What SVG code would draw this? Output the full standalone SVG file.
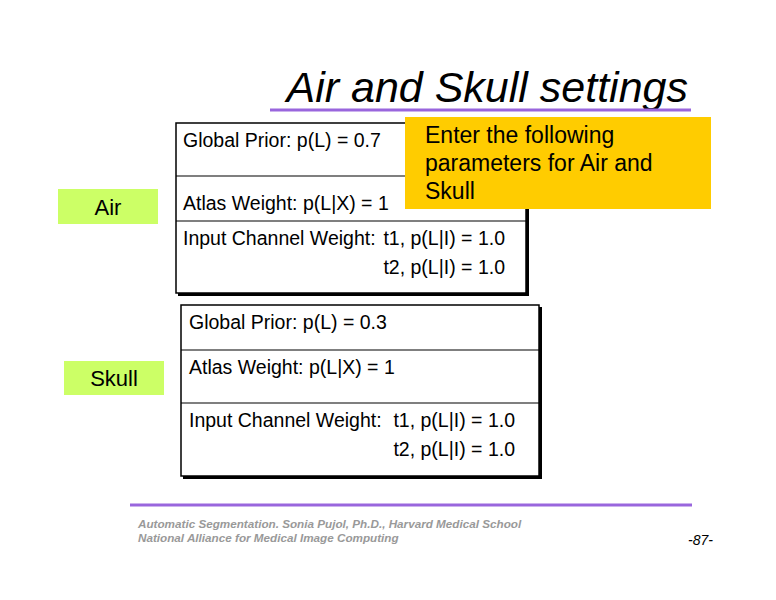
<svg xmlns="http://www.w3.org/2000/svg" width="776" height="600" viewBox="0 0 776 600">
<style>
text{font-family:"Liberation Sans",Arial,sans-serif;fill:#000}
.t{font-size:19.5px}
.box{fill:#fff;stroke:#000;stroke-width:1.5}
.sh{fill:#000}
.div{stroke:#000;stroke-width:1.2}
.lab{fill:#ccff66}
.foot{font-size:11.7px;font-style:italic;font-weight:bold;fill:#999}
</style>
<rect width="776" height="600" fill="#fff"/>
<text x="688" y="102" font-size="43" font-style="italic" text-anchor="end">Air and Skull settings</text>
<line x1="270" y1="110" x2="691" y2="110" stroke="#9966dd" stroke-width="3"/>
<g id="air-table">
<rect class="sh" x="178" y="125" width="351" height="171"/>
<rect class="box" x="176" y="123" width="350" height="170"/>
<line class="div" x1="176" y1="176" x2="526" y2="176"/>
<line class="div" x1="176" y1="221" x2="526" y2="221"/>
<text class="t" x="183" y="147">Global Prior: p(L) = 0.7</text>
<text class="t" x="183" y="210">Atlas Weight: p(L|X) = 1</text>
<text class="t" x="183" y="245">Input Channel Weight:</text>
<text class="t" x="505" y="245" text-anchor="end">t1, p(L|I) = 1.0</text>
<text class="t" x="505" y="274" text-anchor="end">t2, p(L|I) = 1.0</text>
</g>
<g id="note">
<rect x="405" y="117" width="306" height="92" fill="#ffcc00"/>
<text x="425" y="143" font-size="23">Enter the following</text>
<text x="425" y="171" font-size="23">parameters for Air and</text>
<text x="425" y="199" font-size="23">Skull</text>
</g>
<g id="skull-table">
<rect class="sh" x="183" y="307" width="359" height="172"/>
<rect class="box" x="181" y="305" width="358" height="171"/>
<line class="div" x1="181" y1="350" x2="539" y2="350"/>
<line class="div" x1="181" y1="403" x2="539" y2="403"/>
<text class="t" x="189" y="329">Global Prior: p(L) = 0.3</text>
<text class="t" x="189" y="374">Atlas Weight: p(L|X) = 1</text>
<text class="t" x="189" y="427">Input Channel Weight:</text>
<text class="t" x="515" y="427" text-anchor="end">t1, p(L|I) = 1.0</text>
<text class="t" x="515" y="456" text-anchor="end">t2, p(L|I) = 1.0</text>
</g>
<g id="air-label">
<rect class="lab" x="58" y="189" width="100" height="35"/>
<text x="108" y="215" font-size="22" text-anchor="middle">Air</text>
</g>
<g id="skull-label">
<rect class="lab" x="64" y="361" width="100" height="34"/>
<text x="114" y="386" font-size="22" text-anchor="middle">Skull</text>
</g>
<g id="connectors"></g>
<line x1="130" y1="505" x2="692" y2="505" stroke="#9966dd" stroke-width="3"/>
<text class="foot" x="138" y="528">Automatic Segmentation. Sonia Pujol, Ph.D., Harvard Medical School</text>
<text class="foot" x="138" y="542">National Alliance for Medical Image Computing</text>
<text x="713" y="545" font-size="14" font-style="italic" text-anchor="end">-87-</text>
</svg>
